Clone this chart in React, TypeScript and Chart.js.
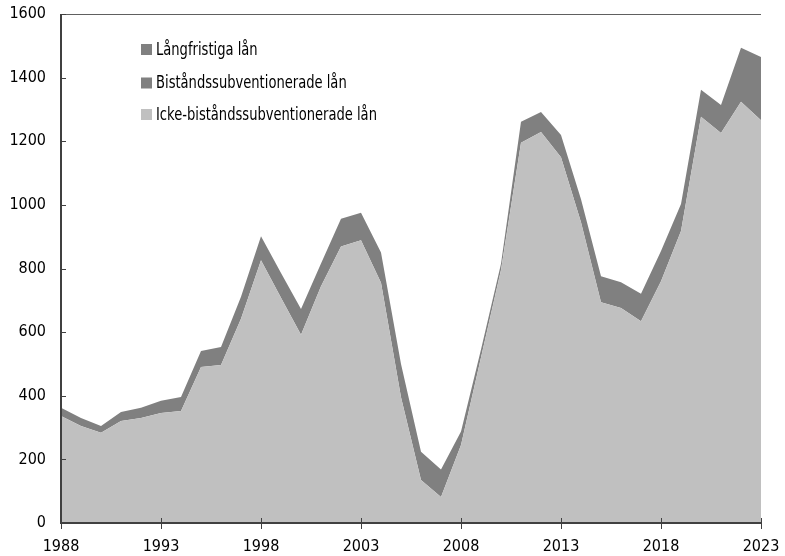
import React, { useEffect, useRef } from "react";
import { Chart, registerables } from "chart.js";

Chart.register(...registerables);

const years: string[] = [
  "1988", "1989", "1990", "1991", "1992", "1993", "1994", "1995", "1996", "1997",
  "1998", "1999", "2000", "2001", "2002", "2003", "2004", "2005", "2006", "2007",
  "2008", "2009", "2010", "2011", "2012", "2013", "2014", "2015", "2016", "2017",
  "2018", "2019", "2020", "2021", "2022", "2023",
];

const ickeBistand: number[] = [
  336, 305, 284, 321, 330, 346, 352, 490, 497, 642,
  826, 708, 592, 744, 869, 889, 755, 395, 135, 82,
  245, 520, 795, 1195, 1229, 1150, 945, 694, 676, 634,
  760, 918, 1277, 1226, 1324, 1266,
];

const bistand: number[] = [
  26, 25, 21, 28, 32, 38, 44, 51, 56, 69,
  75, 78, 81, 72, 87, 86, 95, 105, 89, 86,
  43, 25, 20, 66, 63, 70, 73, 82, 81, 87,
  95, 85, 85, 88, 170, 199,
];

const langfristiga: number[] = [
  0, 0, 0, 0, 0, 0, 0, 0, 0, 0,
  0, 0, 0, 0, 0, 0, 0, 0, 0, 0,
  0, 0, 0, 0, 0, 0, 0, 0, 0, 0,
  0, 0, 0, 0, 0, 0,
];

const yTicks: number[] = [0, 200, 400, 600, 800, 1000, 1200, 1400, 1600];
const legendLabels: string[] = ["Långfristiga lån", "Biståndssubventionerade lån", "Icke-biståndssubventionerade lån"];

const DARK = "#808080";
const LIGHT = "#c0c0c0";
const AXIS = "#404040";
const FONT = '"DejaVu Sans Condensed", "DejaVu Sans", sans-serif';

export default function App() {
  const ref = useRef<HTMLCanvasElement | null>(null);

  useEffect(() => {
    if (!ref.current) return;

    const axesPlugin = {
      id: "axesPlugin",
      afterDatasetsDraw(chart: any) {
        const { ctx, chartArea } = chart;
        const { left, right, top, bottom } = chartArea;
        const xs = chart.scales.x;
        const ys = chart.scales.y;
        ctx.save();
        ctx.strokeStyle = "#606060";
        ctx.lineWidth = 1;
        ctx.beginPath();
        ctx.moveTo(left, Math.round(top) + 0.5);
        ctx.lineTo(right, Math.round(top) + 0.5);
        ctx.stroke();
        ctx.strokeStyle = AXIS;
        ctx.lineWidth = 2;
        ctx.beginPath();
        ctx.moveTo(left, top);
        ctx.lineTo(left, bottom);
        ctx.lineTo(right, bottom);
        ctx.stroke();
        ctx.lineWidth = 1;
        yTicks.forEach((v) => {
          const y = Math.round(ys.getPixelForValue(v)) + 0.5;
          ctx.beginPath();
          ctx.moveTo(left, y);
          ctx.lineTo(left + 5, y);
          ctx.stroke();
        });
        years.forEach((yr, i) => {
          if ((Number(yr) - 1988) % 5 !== 0) return;
          const x = Math.round(xs.getPixelForValue(i)) + 0.5;
          ctx.beginPath();
          ctx.moveTo(x, bottom - 5);
          ctx.lineTo(x, bottom + 6);
          ctx.stroke();
        });
        const centers = [49.5, 83, 114.5];
        const colors = [DARK, DARK, LIGHT];
        legendLabels.forEach((lab, i) => {
          ctx.fillStyle = colors[i];
          ctx.fillRect(141, centers[i] - 5.5, 11, 11);
          ctx.save();
          ctx.translate(156, centers[i] + 1);
          ctx.scale(0.91, 1.05);
          ctx.font = `condensed 16px ${FONT}`;
          ctx.textBaseline = "middle";
          ctx.textAlign = "left";
          ctx.fillStyle = "#000";
          ctx.fillText(lab, 0, 0);
          ctx.restore();
        });
        ctx.restore();
      },
    };

    const chart = new Chart(ref.current, {
      type: "line",
      data: {
        labels: years,
        datasets: [
          {
            label: legendLabels[2],
            data: ickeBistand,
            backgroundColor: LIGHT,
            borderWidth: 0,
            pointRadius: 0,
            fill: "origin",
          },
          {
            label: legendLabels[1],
            data: bistand,
            backgroundColor: DARK,
            borderWidth: 0,
            pointRadius: 0,
            fill: "-1",
          },
          {
            label: legendLabels[0],
            data: langfristiga,
            backgroundColor: DARK,
            borderWidth: 0,
            pointRadius: 0,
            fill: "-1",
          },
        ],
      },
      plugins: [axesPlugin],
      options: {
        animation: false,
        responsive: false,
        maintainAspectRatio: false,
        layout: { padding: { left: 0, top: 14, right: 24, bottom: 0 } },
        plugins: { legend: { display: false }, tooltip: { enabled: false } },
        elements: { line: { tension: 0 } },
        scales: {
          x: {
            type: "category",
            offset: false,
            grid: { display: false },
            border: { display: false },
            ticks: {
              autoSkip: false,
              maxRotation: 0,
              padding: 6,
              color: "#000",
              font: { family: FONT, size: 16, style: "condensed" as any },
              callback: (_v: any, i: number) => ((Number(years[i]) - 1988) % 5 === 0 ? years[i] : ""),
            },
            afterFit: (s: any) => {
              s.height = 33;
              s.paddingLeft = 0;
              s.paddingRight = 0;
            },
          },
          y: {
            stacked: true,
            min: 0,
            max: 1600,
            grid: { display: false },
            border: { display: false },
            afterBuildTicks: (s: any) => {
              s.ticks = yTicks.map((v) => ({ value: v }));
            },
            ticks: {
              padding: 7,
              color: "#000",
              font: { family: FONT, size: 16, style: "condensed" as any },
              callback: (v: any) => String(v),
            },
            afterFit: (s: any) => {
              s.width = 61;
              s.paddingTop = 0;
              s.paddingBottom = 0;
            },
          },
        },
      },
    });
    return () => chart.destroy();
  }, []);

  return (
    <div style={{ position: "fixed", left: 0, top: 0, width: 785, height: 556, background: "#fff" }}>
      <canvas ref={ref} width={785} height={556} style={{ width: 785, height: 556 }} />
    </div>
  );
}
